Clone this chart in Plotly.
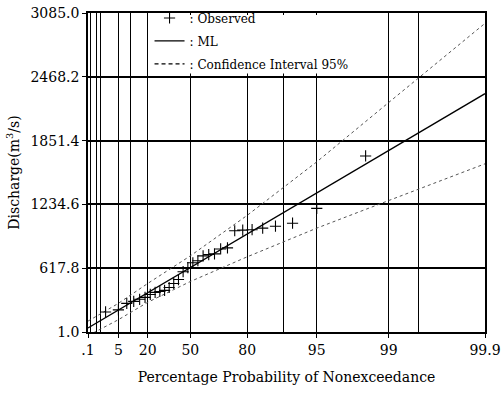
import statistics
import plotly.graph_objects as go

# ---------------- data ----------------
obs_prob = [1.7, 5.0, 8.3, 11.7, 15.0, 18.3, 21.7, 25.0, 28.3, 31.7,
            35.0, 38.3, 41.7, 45.0, 48.3, 51.7, 55.0, 58.3, 61.7, 65.0,
            68.3, 71.7, 75.0, 78.3, 81.7, 85.0, 88.3, 91.7, 95.0, 98.3]
obs_q = [195, 215, 278, 297, 317, 336, 364, 384, 393, 403,
         431, 470, 508, 584, 623, 670, 690, 737, 750, 756,
         804, 814, 980, 986, 990, 1005, 1024, 1053, 1196, 1703]

ml_prob = [0.1, 99.9]
ml_q = [40, 2305]

ci_prob = [0.1, 5, 20, 50, 80, 95, 99, 99.9]
ci_upper = [106, 278, 470, 737, 1129, 1646, 2220, 2985]
ci_lower = [-35, 120, 288, 489, 728, 1005, 1272, 1627]

x_tick_prob = [0.1, 5, 20, 50, 80, 95, 99, 99.9]
x_tick_text = [".1", "5", "20", "50", "80", "95", "99", "99.9"]
x_grid_prob = [0.2, 0.5, 1, 5, 10, 20, 50, 80, 90, 95, 99, 99.5]
y_ticks = [1.0, 617.8, 1234.6, 1851.4, 2468.2, 3085.0]

# ---------------- probability-paper scale (Pearson III, skew 1) ----------------
SKEW = 1.0
_nd = statistics.NormalDist()


def paper(p_percent):
    z = _nd.inv_cdf(p_percent / 100.0)
    g = SKEW
    return (2.0 / g) * ((1 + g * z / 6 - g * g / 36) ** 3 - 1)


def paper_list(ps):
    return [paper(p) for p in ps]


FONT = "DejaVu Serif"
fig = go.Figure()

fig.add_trace(go.Scatter(
    x=paper_list(ci_prob), y=ci_upper, mode="lines",
    line=dict(color="#555555", width=1, dash="dot"),
    showlegend=False, hoverinfo="skip"))
fig.add_trace(go.Scatter(
    x=paper_list(ci_prob), y=ci_lower, mode="lines",
    line=dict(color="#555555", width=1, dash="dot"),
    showlegend=False, hoverinfo="skip"))
fig.add_trace(go.Scatter(
    x=paper_list(ml_prob), y=ml_q, mode="lines",
    line=dict(color="black", width=1.3),
    showlegend=False))
fig.add_trace(go.Scatter(
    x=paper_list(obs_prob), y=obs_q, mode="markers",
    marker=dict(symbol="cross-thin", size=8, line=dict(color="black", width=1.1)),
    showlegend=False))

# legend entries
fig.add_trace(go.Scatter(x=[None], y=[None], mode="markers", legendgroup="a",
                         marker=dict(symbol="cross-thin", size=8,
                                     line=dict(color="black", width=1.1)),
                         name=": Observed"))
fig.add_trace(go.Scatter(x=[None], y=[None], mode="lines", legendgroup="b",
                         line=dict(color="black", width=1.3), name=": ML"))
fig.add_trace(go.Scatter(x=[None], y=[None], mode="lines", legendgroup="c",
                         line=dict(color="black", width=1.2, dash="4px,3px"),
                         name=": Confidence Interval 95%"))

# white panel behind the legend (as on the original probability paper)
fig.add_shape(type="rect", xref="paper", yref="paper",
              x0=0.155, x1=0.675, y0=0.81, y1=0.994,
              fillcolor="white", line=dict(width=0), layer="above")

fig.update_layout(
    width=503, height=394,
    margin=dict(l=88, r=18, t=3, b=62),
    paper_bgcolor="white", plot_bgcolor="white",
    font=dict(family=FONT, color="black", size=14),
    legend=dict(x=0.155, y=1.03, xanchor="left", yanchor="top",
                bgcolor="rgba(255,255,255,0)", borderwidth=0,
                font=dict(family=FONT, size=12), tracegroupgap=4,
                itemwidth=30),
    showlegend=True,
)

fig.update_xaxes(
    range=[paper(0.1), paper(99.9)], automargin=False,
    tickmode="array", tickvals=paper_list(x_tick_prob), ticktext=x_tick_text,
    showgrid=False, zeroline=False,
    ticks="outside", ticklen=4, tickcolor="black",
    tickfont=dict(family=FONT, size=14),
    showline=True, linecolor="black", linewidth=1.5, mirror=True,
    minor=dict(tickmode="array", tickvals=paper_list(x_grid_prob),
               showgrid=True, gridcolor="black", gridwidth=1.1, ticks=""),
    title=dict(text="Percentage Probability of Nonexceedance",
               font=dict(family=FONT, size=14), standoff=16),
)
fig.update_yaxes(
    range=[1.0, 3085.0], automargin=False,
    tickmode="array", tickvals=y_ticks, ticktext=[f"{v:.1f}" for v in y_ticks],
    showgrid=True, gridcolor="black", gridwidth=1.6, zeroline=False,
    ticks="outside", ticklen=4, tickcolor="black",
    tickfont=dict(family=FONT, size=14),
    showline=True, linecolor="black", linewidth=1.5, mirror=True,
    title=dict(text="Discharge(m<sup>3</sup>/s)",
               font=dict(family=FONT, size=14), standoff=8),
)

fig.write_html("out.html")
